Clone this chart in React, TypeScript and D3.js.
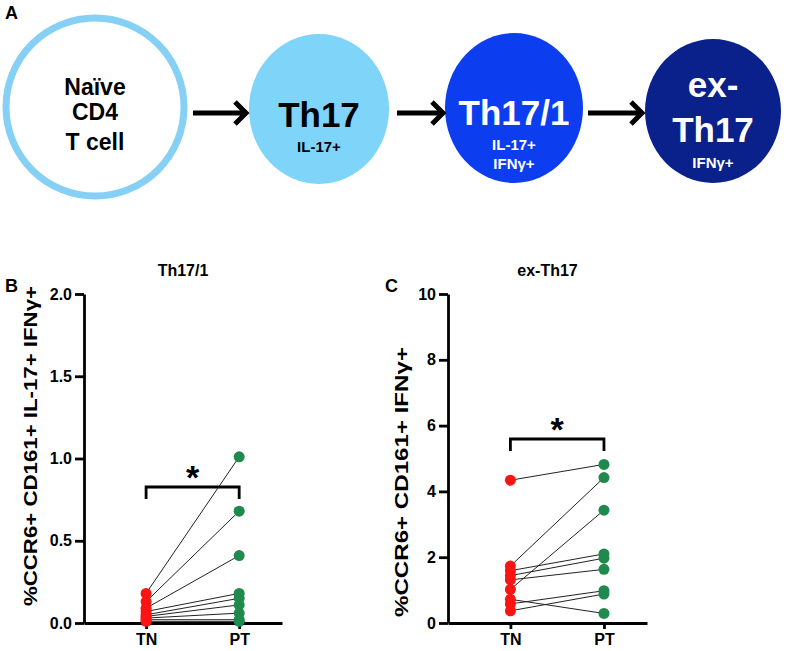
import * as d3 from "d3";
import { useEffect, useRef } from "react";

// panel B / C data (paired samples, TN -> PT)
const categories = ["TN", "PT"];
const th171TN = [0.18, 0.13, 0.09, 0.07, 0.05, 0.04, 0.03, 0.02, 0.01];
const th171PT = [1.01, 0.68, 0.41, 0.18, 0.15, 0.11, 0.06, 0.02, 0.01];
const th171Ticks = [0, 0.5, 1.0, 1.5, 2.0];
const exTh17TN = [4.34, 1.73, 1.02, 1.59, 1.44, 1.31, 0.58, 0.37, 0.72];
const exTh17PT = [4.82, 4.42, 3.43, 2.1, 1.97, 1.63, 0.98, 0.88, 0.29];
const exTh17Ticks = [0, 2, 4, 6, 8, 10];

// panel A cells
const cellTitles = [["Naïve", "CD4", "T cell"], ["Th17"], ["Th17/1"], ["ex-", "Th17"]];
const cellMarkers = [[], ["IL-17+"], ["IL-17+", "IFNγ+"], ["IFNγ+"]];

const FONT = "'Liberation Sans', Arial, sans-serif";
const RED = "#fa1414";
const GREEN = "#1f8a4d";

export default function App() {
  const svgRef = useRef<SVGSVGElement>(null);
  const width = 788;
  const height = 651;

  useEffect(() => {
    const svg = d3.select(svgRef.current).attr("viewBox", `0 0 ${width} ${height}`);
    svg.selectAll("*").remove();

    svg.append("rect").attr("width", width).attr("height", height).attr("fill", "#fff");

    const letter = (t: string, x: number, y: number) =>
      svg.append("text").attr("x", x).attr("y", y).text(t)
        .attr("font-family", FONT).attr("font-weight", "bold").attr("font-size", 18);

    // ---------- panel A ----------
    letter("A", 5, 19);
    const cells = [
      { cx: 95, cy: 107, rx: 89, ry: 89, fill: "#fff", stroke: "#86d0f5", text: "#000" },
      { cx: 319, cy: 109, rx: 70, ry: 75, fill: "#7fd4fa", stroke: "none", text: "#000" },
      { cx: 514, cy: 108, rx: 69, ry: 75, fill: "#0c3ef0", stroke: "none", text: "#fff" },
      { cx: 713, cy: 111, rx: 68, ry: 72, fill: "#0a208a", stroke: "none", text: "#fff" },
    ];
    const titleBase = [[95, 120, 150], [127], [125], [97, 142]];
    const markerBase = [[], [152], [150, 169], [168]];

    cells.forEach((c, i) => {
      svg.append("ellipse").attr("cx", c.cx).attr("cy", c.cy).attr("rx", c.rx).attr("ry", c.ry)
        .attr("fill", c.fill).attr("stroke", c.stroke).attr("stroke-width", 7);
      cellTitles[i].forEach((t, j) => {
        svg.append("text").attr("x", c.cx).attr("y", titleBase[i][j]).text(t)
          .attr("text-anchor", "middle").attr("font-family", FONT).attr("font-weight", "bold")
          .attr("font-size", i === 0 ? 23 : 35).attr("fill", c.text);
      });
      cellMarkers[i].forEach((t, j) => {
        svg.append("text").attr("x", c.cx).attr("y", markerBase[i][j]).text(t)
          .attr("text-anchor", "middle").attr("font-family", FONT).attr("font-weight", "bold")
          .attr("font-size", 15).attr("fill", c.text);
      });
    });

    // arrows
    const arrows = [[193, 247, 113], [397, 444, 113], [588, 643, 113]];
    arrows.forEach(([x1, x2, y]) => {
      svg.append("line").attr("x1", x1).attr("x2", x2 - 3).attr("y1", y).attr("y2", y)
        .attr("stroke", "#000").attr("stroke-width", 5);
      svg.append("polyline")
        .attr("points", `${x2 - 12},${y - 11} ${x2 - 1},${y} ${x2 - 12},${y + 11}`)
        .attr("fill", "none").attr("stroke", "#000").attr("stroke-width", 5)
        .attr("stroke-linejoin", "miter");
    });

    // ---------- panels B, C ----------
    const drawPanel = (o: {
      tn: number[]; pt: number[]; ticks: number[]; fmt: (d: number) => string;
      x0: number; x1: number; title: string; yLabel: string; labelX: number;
      labelY: number; labelLen: number; letter: string; letterX: number; bracketY: number;
    }) => {
      const y = d3.scaleLinear().domain([0, d3.max(o.ticks)!]).range([623, 294]);
      const x = d3.scaleLinear().domain([-0.667, 1.46]).range([o.x0, o.x1]);
      const g = svg.append("g");

      letter(o.letter, o.letterX, 292);

      g.append("text").attr("x", (o.x0 + o.x1) / 2).attr("y", 276).text(o.title)
        .attr("text-anchor", "middle").attr("font-family", FONT).attr("font-weight", "bold")
        .attr("font-size", 16);

      g.append("text")
        .attr("transform", `translate(${o.labelX},${o.labelY}) rotate(-90)`)
        .attr("text-anchor", "middle").attr("font-family", FONT).attr("font-weight", "bold")
        .attr("font-size", 18).attr("textLength", o.labelLen).attr("lengthAdjust", "spacingAndGlyphs")
        .text(o.yLabel);

      const yAxis = g.append("g").attr("transform", `translate(${o.x0},0)`)
        .call(d3.axisLeft(y).tickValues(o.ticks).tickFormat((d) => o.fmt(d as number))
          .tickSize(9).tickSizeOuter(0).tickPadding(3));
      const xAxis = g.append("g").attr("transform", `translate(0,623)`)
        .call(d3.axisBottom(x).tickValues([0, 1]).tickFormat((d) => categories[d as number])
          .tickSize(6).tickSizeOuter(0).tickPadding(5));
      [yAxis, xAxis].forEach((a) => {
        a.select(".domain").attr("stroke-width", 2.8).attr("stroke", "#000");
        a.selectAll(".tick line").attr("stroke-width", 2.8).attr("stroke", "#000");
        a.selectAll(".tick text").attr("font-family", FONT).attr("font-weight", "bold")
          .attr("font-size", 16).attr("fill", "#000");
      });

      // significance bracket
      g.append("path")
        .attr("d", `M${x(0)},${o.bracketY + 12}V${o.bracketY}H${x(1)}V${o.bracketY + 12}`)
        .attr("fill", "none").attr("stroke", "#000").attr("stroke-width", 2.8);
      g.append("text").attr("x", (x(0) + x(1)) / 2).attr("y", o.bracketY + 2).text("*")
        .attr("text-anchor", "middle").attr("font-family", FONT).attr("font-weight", "bold")
        .attr("font-size", 34);

      const pairs = o.tn.map((v, i) => ({ tn: v, pt: o.pt[i] }));
      g.selectAll("line.pair").data(pairs).enter().append("line")
        .attr("x1", x(0)).attr("x2", x(1))
        .attr("y1", (d) => y(d.tn)).attr("y2", (d) => y(d.pt))
        .attr("stroke", "#222").attr("stroke-width", 1);
      g.selectAll("circle.tn").data(o.tn).enter().append("circle")
        .attr("cx", x(0)).attr("cy", (d) => y(d)).attr("r", 5.5).attr("fill", RED);
      g.selectAll("circle.pt").data(o.pt).enter().append("circle")
        .attr("cx", x(1)).attr("cy", (d) => y(d)).attr("r", 5.5).attr("fill", GREEN);
    };

    drawPanel({
      tn: th171TN, pt: th171PT, ticks: th171Ticks, fmt: (d) => d.toFixed(1),
      x0: 84, x1: 282, title: "Th17/1", yLabel: "%CCR6+ CD161+ IL-17+ IFNγ+",
      labelX: 37, labelY: 446, labelLen: 320, letter: "B", letterX: 5, bracketY: 487,
    });
    drawPanel({
      tn: exTh17TN, pt: exTh17PT, ticks: exTh17Ticks, fmt: (d) => String(d),
      x0: 448, x1: 647, title: "ex-Th17", yLabel: "%CCR6+ CD161+ IFNγ+",
      labelX: 408, labelY: 482, labelLen: 270, letter: "C", letterX: 385, bracketY: 439,
    });
  }, []);

  return (
    <div style={{ position: "absolute", left: 0, top: 0 }}>
      <svg ref={svgRef} width={width} height={height}></svg>
    </div>
  );
}
